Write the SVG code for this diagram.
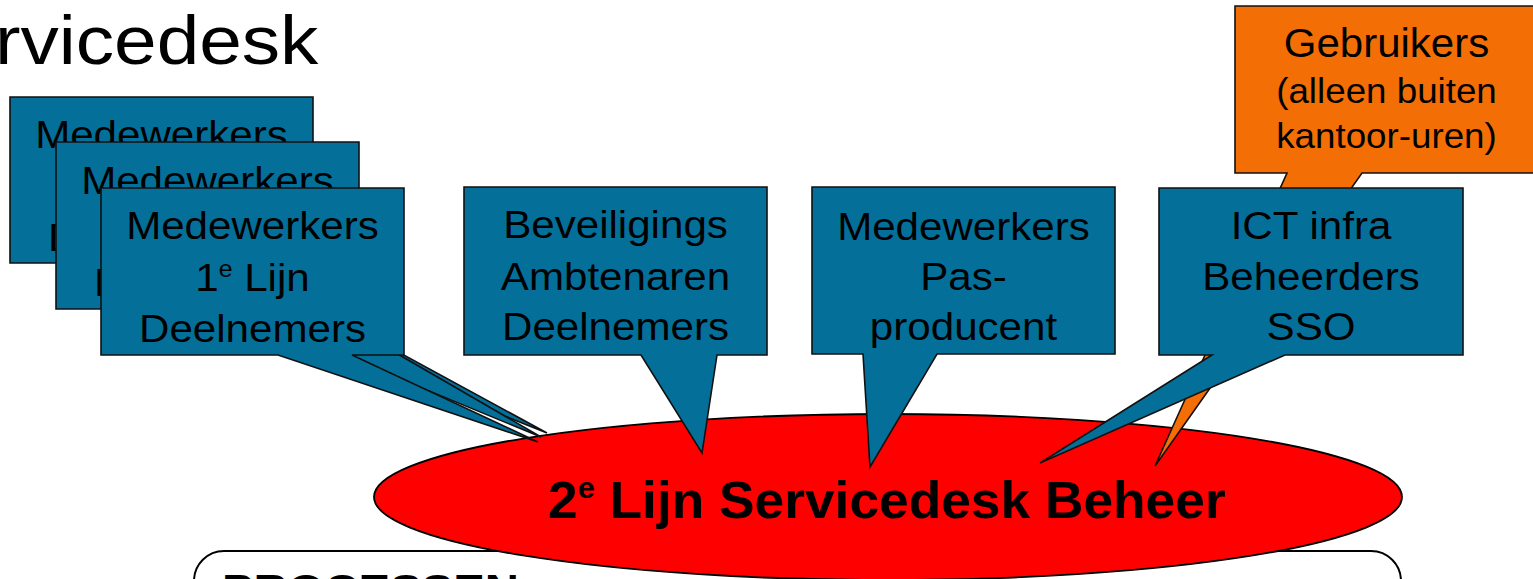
<svg xmlns="http://www.w3.org/2000/svg" width="1533" height="579" viewBox="0 0 1533 579">
<style>
.blue{fill:#04709a;stroke:#111;stroke-width:1.6;stroke-linejoin:miter}
.orange{fill:#f46e06;stroke:#111;stroke-width:1.6}
.t{font-family:"Liberation Sans",Arial,sans-serif;font-size:39px;fill:#000;text-anchor:middle}
.to{font-family:"Liberation Sans",Arial,sans-serif;font-size:35px;fill:#000;text-anchor:middle}
.sup{font-size:23px}
.b{font-family:"Liberation Sans",Arial,sans-serif;font-weight:bold;fill:#000}
</style>
<rect width="1533" height="579" fill="#fff"/>
<g id="title">
<text class="b" style="font-weight:normal;font-size:69px" transform="translate(-5 64) scale(1.11 1)">rvicedesk</text>
</g>
<g id="processen">
<rect x="194" y="551" width="1207" height="120" rx="30" ry="30" fill="#fff" stroke="#000" stroke-width="2"/>
<text class="b" style="font-size:43px" transform="translate(222 604) scale(1.1 1)">PROCESSEN</text>
</g>
<g id="beheer">
<ellipse cx="888" cy="497" rx="514" ry="83" fill="#ff0000" stroke="#000" stroke-width="1.8"/>
<text class="b" style="font-size:52px" transform="translate(548 518) scale(1.025 1)">2<tspan style="font-size:30px" dy="-20">e</tspan><tspan dy="20"> Lijn Servicedesk Beheer</tspan></text>
</g>
<g id="connectors"></g>
<g id="medewerkers-back1">
<path class="blue" d="M10,97 H313 V263 H235 L547,433 L122,263 H10 Z"/>
<g transform="translate(161.5 0) scale(1.08 1)">
<text class="t" x="0" y="148">Medewerkers</text>
<text class="t" x="0" y="251">Deelnemers</text>
</g>
</g>
<g id="medewerkers-back2">
<path class="blue" d="M56,142 H359 V309 H320 L541,437 L230,309 H56 Z"/>
<g transform="translate(207.5 0) scale(1.08 1)">
<text class="t" x="0" y="194">Medewerkers</text>
<text class="t" x="0" y="296">Deelnemers</text>
</g>
</g>
<g id="medewerkers-1e-lijn">
<path class="blue" d="M101,188 H404 V355 H352 L538,442 L278,355 H101 Z"/>
<g transform="translate(252.5 0) scale(1.08 1)">
<text class="t" x="0" y="239">Medewerkers</text>
<text class="t" x="0" y="291">1<tspan class="sup" dy="-14">e</tspan><tspan dy="14"> Lijn</tspan></text>
<text class="t" x="0" y="342">Deelnemers</text>
</g>
</g>
<g id="beveiligings">
<path class="blue" d="M464,187 H767 V355 H717 L702,453 L641,355 H464 Z"/>
<g transform="translate(615.5 0) scale(1.08 1)">
<text class="t" x="0" y="238">Beveiligings</text>
<text class="t" x="0" y="290">Ambtenaren</text>
<text class="t" x="0" y="340">Deelnemers</text>
</g>
</g>
<g id="pasproducent">
<path class="blue" d="M812,187 H1115 V354 H937 L870,467 L863,354 H812 Z"/>
<g transform="translate(963.5 0) scale(1.08 1)">
<text class="t" x="0" y="240">Medewerkers</text>
<text class="t" x="0" y="290">Pas-</text>
<text class="t" x="0" y="340">producent</text>
</g>
</g>
<g id="gebruikers">
<path class="orange" d="M1235,6 H1540 V173 H1362 L1155,466 L1287,173 H1235 Z"/>
<g transform="translate(1386.5 0) scale(1.05 1)">
<text class="to" x="0" y="57" style="font-size:40px">Gebruikers</text>
<text class="to" x="0" y="103">(alleen buiten</text>
<text class="to" x="0" y="148">kantoor-uren)</text>
</g>
</g>
<g id="ict-infra">
<path class="blue" d="M1159,188 H1463 V355 H1285 L1040,463 L1212,355 H1159 Z"/>
<g transform="translate(1311 0) scale(1.08 1)">
<text class="t" x="0" y="239">ICT infra</text>
<text class="t" x="0" y="290">Beheerders</text>
<text class="t" x="0" y="340">SSO</text>
</g>
</g>
</svg>
